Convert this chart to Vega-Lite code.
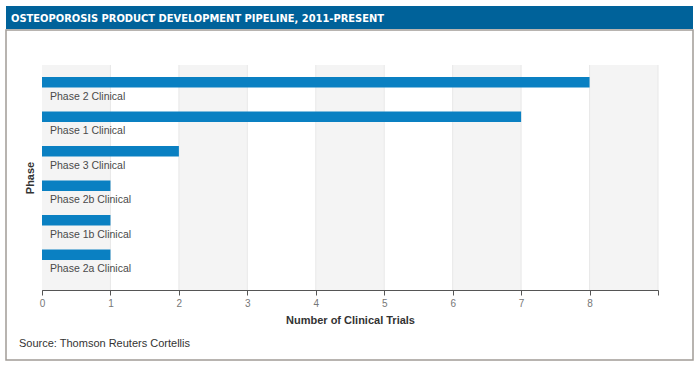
{
  "$schema": "https://vega.github.io/schema/vega-lite/v6.json",
  "padding": {"left": 5, "top": 6, "right": 5, "bottom": 4},
  "spacing": 0,
  "background": "white",
  "config": {"font": "Liberation Sans", "view": {"stroke": null}},
  "vconcat": [
    {
      "width": 687,
      "height": 23,
      "view": {"fill": "#00629a", "stroke": null},
      "title": {
        "text": "OSTEOPOROSIS PRODUCT DEVELOPMENT PIPELINE, 2011-PRESENT",
        "anchor": "start",
        "frame": "group",
        "orient": "top",
        "offset": -18,
        "dx": 5,
        "color": "white",
        "font": "DejaVu Sans Condensed, Liberation Sans",
        "fontWeight": "bold",
        "fontSize": 11
      },
      "data": {"values": [{"t": ""}]},
      "mark": {"type": "text"},
      "encoding": {"text": {"field": "t"}}
    },
    {
      "width": 687,
      "height": 330,
      "view": {"stroke": "#a19c97", "strokeWidth": 1.5, "fill": "white"},
      "title": {
        "text": "Source: Thomson Reuters Cortellis",
        "orient": "bottom",
        "anchor": "start",
        "frame": "group",
        "offset": -22,
        "dx": 13,
        "fontSize": 11,
        "fontWeight": "normal",
        "color": "#333333"
      },
      "resolve": {"scale": {"y": "independent"}, "axis": {"y": "independent"}},
      "layer": [
        {
          "data": {"values": [{"lo": 0, "hi": 1}, {"lo": 2, "hi": 3}, {"lo": 4, "hi": 5}, {"lo": 6, "hi": 7}, {"lo": 8, "hi": 9}]},
          "mark": {"type": "rect", "color": "#f4f4f4"},
          "encoding": {
            "x": {
              "field": "lo",
              "type": "quantitative",
              "scale": {"domain": [0, 9], "range": [36, 652], "nice": false, "zero": true},
              "axis": {
                "values": [0, 1, 2, 3, 4, 5, 6, 7, 8, 9],
                "format": "d",
                "title": "Number of Clinical Trials",
                "orient": "bottom",
                "offset": -70,
                "grid": false,
                "domainColor": "#555555",
                "tickColor": "#555555",
                "tickSize": 5,
                "labelColor": "#777777",
                "labelFontSize": 10,
                "labelPadding": 3,
                "labelFlush": false,
                "labelExpr": "datum.value == 9 ? '' : datum.label",
                "titleFontSize": 11,
                "titleFontWeight": "bold",
                "titleColor": "#333333",
                "titlePadding": 6
              }
            },
            "x2": {"field": "hi"},
            "y": {
              "datum": 0,
              "type": "quantitative",
              "scale": {"domain": [0, 1], "range": [35, 260]},
              "axis": {
                "title": "Phase",
                "orient": "left",
                "offset": -36,
                "labels": false,
                "ticks": false,
                "grid": false,
                "domainColor": "#555555",
                "titleFontSize": 11,
                "titleFontWeight": "bold",
                "titleColor": "#333333",
                "titlePadding": 7
              }
            },
            "y2": {"datum": 1}
          }
        },
        {
          "data": {"values": [{"v": 1}, {"v": 2}, {"v": 3}, {"v": 4}, {"v": 5}, {"v": 6}, {"v": 7}, {"v": 8}, {"v": 9}]},
          "mark": {"type": "rule", "color": "#e8e8e8", "strokeWidth": 1},
          "encoding": {
            "x": {"field": "v", "type": "quantitative"},
            "y": {"datum": 0, "type": "quantitative", "scale": {"domain": [0, 1], "range": [35, 260]}, "axis": null},
            "y2": {"datum": 1}
          }
        },
        {
          "data": {"values": [
            {"phase": "Phase 2 Clinical", "trials": 8},
            {"phase": "Phase 1 Clinical", "trials": 7},
            {"phase": "Phase 3 Clinical", "trials": 2},
            {"phase": "Phase 2b Clinical", "trials": 1},
            {"phase": "Phase 1b Clinical", "trials": 1},
            {"phase": "Phase 2a Clinical", "trials": 1}
          ]},
          "layer": [
            {
              "mark": {"type": "bar", "color": "#0a80c2", "height": 10.5},
              "encoding": {
                "x": {"field": "trials", "type": "quantitative"},
                "y": {
                  "field": "phase",
                  "type": "nominal",
                  "sort": null,
                  "scale": {"range": [35, 242], "paddingInner": 0, "paddingOuter": 0},
                  "axis": null
                }
              }
            },
            {
              "mark": {"type": "text", "align": "left", "baseline": "middle", "dx": 8, "dy": 14.5, "fontSize": 10.5, "color": "#4a4a4a"},
              "encoding": {
                "x": {"datum": 0, "type": "quantitative"},
                "y": {
                  "field": "phase",
                  "type": "nominal",
                  "sort": null,
                  "scale": {"range": [35, 242], "paddingInner": 0, "paddingOuter": 0},
                  "axis": null
                },
                "text": {"field": "phase"}
              }
            }
          ]
        }
      ]
    }
  ]
}
